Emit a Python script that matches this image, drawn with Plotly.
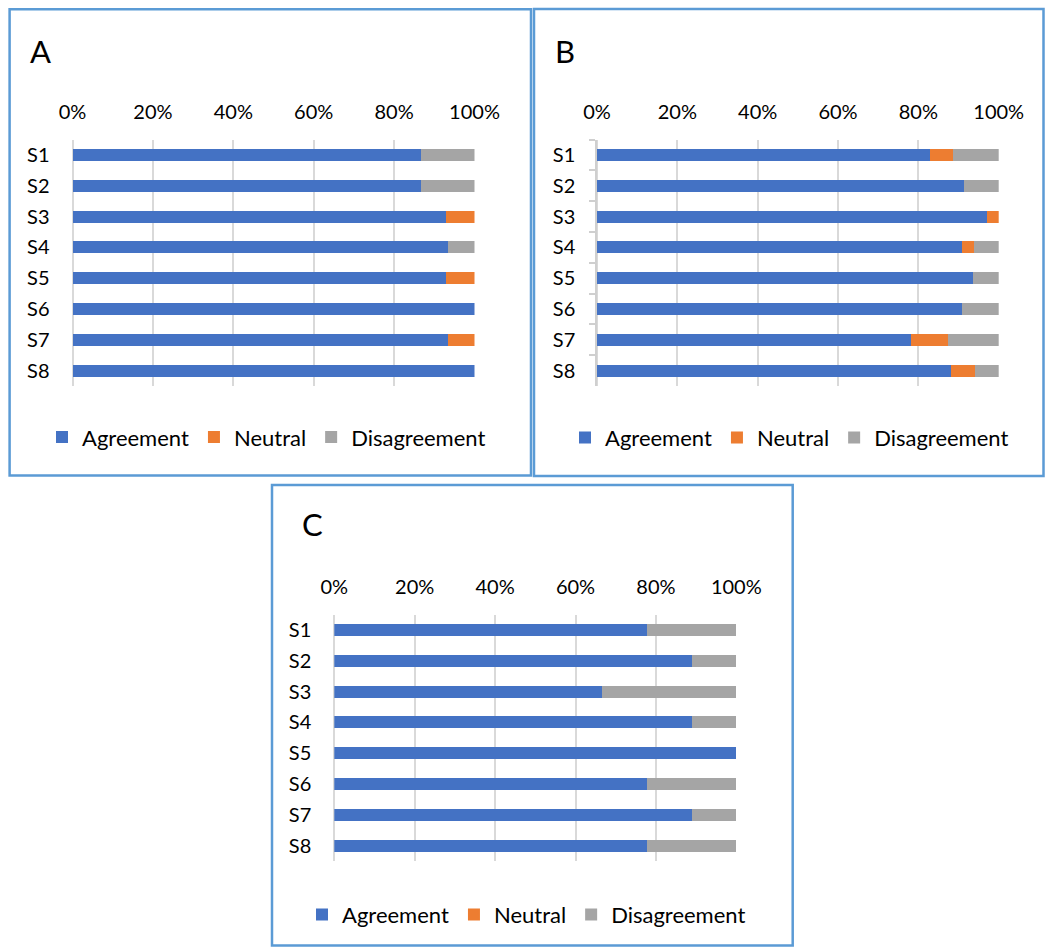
import plotly.graph_objects as go

# Survey statements
statements = ["S1", "S2", "S3", "S4", "S5", "S6", "S7", "S8"]
tick_vals = [0, 0.2, 0.4, 0.6, 0.8, 1.0]

# Group A (shares of respondents)
a_agree = [0.867, 0.867, 0.929, 0.933, 0.929, 1.000, 0.933, 1.000]
a_neutral = [0.000, 0.000, 0.071, 0.000, 0.071, 0.000, 0.067, 0.000]
a_disagree = [0.133, 0.133, 0.000, 0.067, 0.000, 0.000, 0.000, 0.000]

# Group B
b_agree = [0.829, 0.914, 0.971, 0.909, 0.935, 0.909, 0.781, 0.882]
b_neutral = [0.057, 0.000, 0.029, 0.030, 0.000, 0.000, 0.094, 0.059]
b_disagree = [0.114, 0.086, 0.000, 0.061, 0.065, 0.091, 0.125, 0.059]

# Group C
c_agree = [0.778, 0.889, 0.667, 0.889, 1.000, 0.778, 0.889, 0.778]
c_neutral = [0.000, 0.000, 0.000, 0.000, 0.000, 0.000, 0.000, 0.000]
c_disagree = [0.222, 0.111, 0.333, 0.111, 0.000, 0.222, 0.111, 0.222]

W, H = 1045, 947
FONT = "Lato"
COLORS = {"Agreement": "#4472C4", "Neutral": "#ED7D31", "Disagreement": "#A5A5A5"}
GRID = "#d9d9d9"
BORDER = "#5B9BD5"


def px_x(v):
    return v / W


def px_y(v):
    return 1 - v / H


fig = go.Figure()

panels = [
    # name, series, axis suffix, legend id, x-range px, y-range px
    ("A", (a_agree, a_neutral, a_disagree), "", "legend", (72.5, 474.5), (139.6, 386.1)),
    ("B", (b_agree, b_neutral, b_disagree), "2", "legend2", (597.0, 998.7), (139.6, 386.1)),
    ("C", (c_agree, c_neutral, c_disagree), "3", "legend3", (334.3, 736.3), (614.6, 861.1)),
]

for name, series, sfx, leg, (x0, x1), (y0, y1) in panels:
    for label, vals in zip(["Agreement", "Neutral", "Disagreement"], series):
        fig.add_trace(go.Bar(
            x=vals, y=statements, orientation="h", name=label,
            marker=dict(color=COLORS[label], line=dict(width=0)),
            xaxis="x" + sfx, yaxis="y" + sfx, legend=leg,
            hovertemplate="%{y}: %{x:.1%}<extra>" + label + "</extra>",
        ))
    is_b = name == "B"
    fig.update_layout(**{
        "xaxis" + sfx: dict(
            domain=[px_x(x0), px_x(x1)], anchor="y" + sfx, side="top",
            range=[0, 1], tickvals=tick_vals, tickformat=".0%",
            showgrid=True, gridcolor=GRID, gridwidth=1.5,
            zeroline=True, zerolinecolor=GRID, zerolinewidth=1.5,
            showline=False, ticks="", ticklabelstandoff=16,
            tickfont=dict(family=FONT, size=20, color="#000000"),
            automargin=False, fixedrange=True,
        ),
        "yaxis" + sfx: dict(
            domain=[px_y(y1), px_y(y0)], anchor="x" + sfx,
            type="category", categoryorder="array", categoryarray=statements,
            range=[7.5, -0.5], showgrid=False, zeroline=False,
            showline=is_b, linecolor="#cfcfcf", linewidth=1.5,
            ticks="outside" if is_b else "", tickson="boundaries",
            ticklen=6, tickcolor="#cfcfcf", tickwidth=1.5,
            ticklabelstandoff=16 if is_b else 22,
            tickfont=dict(family=FONT, size=20, color="#000000"),
            automargin=False, fixedrange=True,
        ),
    })

legend_common = dict(
    orientation="h", xanchor="left", yanchor="middle",
    font=dict(family=FONT, size=22, color="#000000"),
    bgcolor="rgba(0,0,0,0)", itemwidth=30, traceorder="normal",
    itemclick=False, itemdoubleclick=False,
)
fig.update_layout(
    legend=dict(x=px_x(42), y=px_y(437.3), **legend_common),
    legend2=dict(x=px_x(565), y=px_y(437.6), **legend_common),
    legend3=dict(x=px_x(302), y=px_y(914.6), **legend_common),
)

# Panel frames
frames = [(9.6, 9.3, 531, 475.5), (534, 9, 1043.5, 476), (272, 485, 792.7, 945.5)]
for fx0, fy0, fx1, fy1 in frames:
    fig.add_shape(type="rect", xref="paper", yref="paper",
                  x0=px_x(fx0), x1=px_x(fx1), y0=px_y(fy1), y1=px_y(fy0),
                  line=dict(color=BORDER, width=2.5), fillcolor="rgba(0,0,0,0)")

# Panel letters
for letter, lx, ly in [("A", 27.6, 51), ("B", 553, 51), ("C", 299.7, 524)]:
    fig.add_annotation(text=letter, xref="paper", yref="paper",
                       x=px_x(lx), y=px_y(ly), xanchor="left", yanchor="middle",
                       showarrow=False,
                       font=dict(family=FONT, size=31, color="#000000"))

fig.update_layout(
    width=W, height=H, margin=dict(l=0, r=0, t=0, b=0, autoexpand=False),
    barmode="stack", bargap=0.61,
    paper_bgcolor="white", plot_bgcolor="white",
    showlegend=True,
)

fig.write_html("out.html", config={"displayModeBar": False})
